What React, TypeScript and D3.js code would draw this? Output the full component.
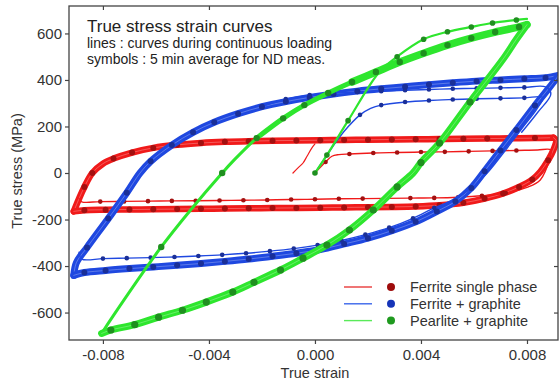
import React, { useEffect, useRef } from "react";
import * as d3 from "d3";

// [strain, stress (MPa), symbol? 1 = 5 min average point]
type Pt = [number, number, number];

const xTicks = [-0.008, -0.004, 0, 0.004, 0.008];
const xTickLabels = ["-0.008", "-0.004", "0.000", "0.004", "0.008"];
const yTicks = [-600, -400, -200, 0, 200, 400, 600];
const yTickLabels = ["-600", "-400", "-200", "0", "200", "400", "600"];

const titleLines = [
  "True stress strain curves",
  "lines : curves during continuous loading",
  "symbols : 5 min average for ND meas.",
];
const legendLabels = ["Ferrite single phase", "Ferrite + graphite", "Pearlite + graphite"];

// ---- Ferrite single phase (red)
const redBandUp: Pt[] = [
  [-0.0091, -165, 0], [-0.0089, -110, 0], [-0.0087, -60, 1], [-0.0084, 0, 1], [-0.008, 40, 0],
  [-0.0076, 62, 1], [-0.0069, 88, 1], [-0.0061, 108, 1], [-0.0052, 121, 1], [-0.0043, 129, 1],
  [-0.0034, 134, 1], [-0.0025, 137, 1], [-0.0016, 139, 1], [-0.0007, 140, 1], [0.0002, 141, 1],
  [0.0011, 142, 1], [0.002, 143, 1], [0.0029, 144, 1], [0.0038, 145, 1], [0.0047, 146, 1],
  [0.0056, 147, 1], [0.0065, 148, 1], [0.0074, 149, 1], [0.0083, 150, 1], [0.009, 152, 0],
];
const redBandDown: Pt[] = [
  [0.009, 152, 0], [0.0091, 140, 0], [0.009, 100, 0], [0.0088, 55, 1], [0.0085, 5, 0],
  [0.0082, -28, 1], [0.0077, -60, 1], [0.0071, -88, 1], [0.0064, -110, 1], [0.0056, -128, 1],
  [0.0047, -139, 1], [0.0038, -144, 1], [0.0029, -146, 1], [0.002, -147, 1], [0.0011, -148, 1],
  [0.0002, -149, 1], [-0.0007, -150, 1], [-0.0016, -151, 1], [-0.0025, -152, 1], [-0.0034, -153, 1],
  [-0.0043, -154, 1], [-0.0052, -155, 1], [-0.0061, -156, 1], [-0.007, -157, 1], [-0.0079, -158, 1],
  [-0.0087, -160, 1], [-0.0091, -165, 0],
];
const redFirst: Pt[] = [
  [0, 0, 0], [0.0004, 47, 1], [0.00064, 72, 0], [0.0009, 79, 0], [0.0013, 82, 1], [0.0022, 86, 1],
  [0.0031, 88, 1], [0.004, 90, 1], [0.0049, 91, 1], [0.0058, 93, 1], [0.0067, 95, 1], [0.0076, 97, 1],
  [0.0084, 99, 0], [0.0089, 99, 0], [0.00885, 60, 0], [0.0085, -30, 0], [0.008, -62, 0],
  [0.0072, -86, 1], [0.0063, -98, 1], [0.0054, -104, 1], [0.0045, -107, 1], [0.0036, -108, 1],
  [0.0027, -109, 1], [0.0018, -110, 1], [0.0009, -111, 1], [0, -113, 1], [-0.0009, -114, 1],
  [-0.0018, -116, 1], [-0.0027, -117, 1], [-0.0036, -118, 1], [-0.0045, -119, 1], [-0.0054, -120, 1],
  [-0.0063, -121, 1], [-0.0072, -122, 1], [-0.0081, -123, 1], [-0.0088, -124, 0], [-0.0089, -110, 0],
];
const redPre: Pt[] = [
  [-0.00083, 0, 0], [-0.00064, 22, 0], [-0.00045, 43, 0], [-0.0003, 72, 0], [-0.00012, 107, 0], [0, 125, 0],
];

// ---- Ferrite + graphite (blue)
const blueBandUp: Pt[] = [
  [-0.0091, -440, 0], [-0.009, -385, 0], [-0.0086, -320, 1], [-0.0078, -196, 1], [-0.0071, -85, 1],
  [-0.0066, 0, 0], [-0.0062, 50, 1], [-0.0054, 120, 1], [-0.0046, 175, 1], [-0.0038, 218, 1],
  [-0.0029, 255, 1], [-0.002, 285, 1], [-0.0011, 307, 1], [-0.0002, 325, 1], [0.0007, 340, 1],
  [0.0016, 352, 1], [0.0025, 362, 1], [0.0034, 371, 1], [0.0043, 380, 1], [0.0052, 388, 1],
  [0.0061, 395, 1], [0.007, 400, 1], [0.0079, 405, 1], [0.0087, 410, 1], [0.0092, 420, 0],
];
const blueBandDown: Pt[] = [
  [0.0092, 420, 0], [0.0088, 361, 0], [0.0083, 290, 1], [0.0076, 185, 1], [0.007, 97, 1],
  [0.0064, 8, 1], [0.0059, -64, 1], [0.0053, -122, 1], [0.0046, -165, 1], [0.0038, -210, 1],
  [0.0029, -248, 1], [0.002, -280, 1], [0.0011, -305, 1], [0.0002, -329, 1], [-0.0007, -345, 1],
  [-0.0016, -358, 1], [-0.0025, -370, 1], [-0.0034, -380, 1], [-0.0043, -389, 1], [-0.0052, -397, 1],
  [-0.0061, -404, 1], [-0.007, -411, 1], [-0.0079, -419, 1], [-0.0087, -428, 1], [-0.0091, -440, 0],
];
const blueFirst: Pt[] = [
  [0, 0, 0], [0.0005, 85, 0], [0.0009, 150, 0], [0.0013, 205, 0], [0.0017, 250, 1], [0.0021, 278, 0],
  [0.0025, 292, 1], [0.0034, 305, 1], [0.0043, 312, 1], [0.0052, 316, 1], [0.0061, 319, 1],
  [0.007, 321, 1], [0.0079, 323, 1], [0.0086, 325, 0], [0.0084, 280, 0], [0.0078, 190, 0],
  [0.0071, 85, 0], [0.0065, 0, 0], [0.0059, -65, 0], [0.0052, -115, 0], [0.0045, -150, 1],
  [0.0037, -195, 1], [0.0028, -235, 1], [0.0019, -265, 1], [0.001, -290, 1], [0.0001, -310, 1],
  [-0.0008, -325, 1], [-0.0017, -336, 1], [-0.0026, -345, 1], [-0.0035, -352, 1], [-0.0044, -357, 1],
  [-0.0053, -361, 1], [-0.0062, -364, 1], [-0.0071, -366, 1], [-0.008, -368, 1], [-0.0088, -370, 0],
  [-0.0089, -340, 0],
];
const blueSecond: Pt[] = [
  [-0.002, 285, 0], [-0.0011, 318, 1], [-0.0002, 335, 1], [0.0007, 343, 1], [0.0016, 348, 1],
  [0.0025, 352, 1], [0.0034, 356, 1], [0.0043, 359, 1], [0.0052, 362, 1], [0.0061, 364, 1],
  [0.007, 366, 1], [0.0079, 368, 1], [0.0087, 370, 0], [0.0089, 340, 0], [0.0084, 260, 0], [0.0078, 175, 0],
];

// ---- Pearlite + graphite (green)
const greenInit: Pt[] = [
  [0, 0, 1], [0.00045, 77, 1], [0.00125, 225, 1], [0.0024, 430, 0], [0.0031, 500, 1], [0.0041, 575, 1],
  [0.005, 607, 1], [0.0059, 628, 1], [0.0067, 645, 1], [0.0076, 658, 1], [0.008, 663, 0],
];
const greenUp: Pt[] = [
  [-0.00805, -690, 0], [-0.0076, -612, 0], [-0.0058, -318, 1], [-0.0047, -160, 0], [-0.0035, 0, 1],
  [-0.0031, 50, 0], [-0.0022, 150, 1], [-0.0012, 235, 1], [-0.0004, 292, 1], [0.0005, 344, 1],
  [0.0014, 391, 1], [0.0023, 434, 1], [0.0032, 477, 1], [0.0041, 515, 1], [0.005, 550, 1],
  [0.0059, 580, 1], [0.0068, 606, 1], [0.0077, 628, 1], [0.008, 638, 0],
];
const greenDown: Pt[] = [
  [0.008, 638, 0], [0.0076, 575, 0], [0.0071, 490, 0], [0.00585, 305, 1], [0.0047, 129, 1],
  [0.004, 45, 1], [0.0037, 0, 0], [0.0031, -60, 1], [0.0022, -159, 1], [0.0013, -245, 1],
  [0.00045, -310, 1], [-0.00045, -366, 1], [-0.0013, -417, 1], [-0.0023, -470, 1], [-0.0031, -512, 1],
  [-0.0041, -555, 1], [-0.005, -590, 1], [-0.0059, -620, 1], [-0.0068, -652, 1], [-0.0077, -675, 1],
  [-0.00805, -690, 0],
];

const FONT = "'Liberation Sans', Arial, Helvetica, sans-serif";
const W = 560;
const H = 385;

export default function App() {
  const ref = useRef<SVGSVGElement>(null);

  useEffect(() => {
    const svg = d3.select(ref.current);
    svg.selectAll("*").remove();

    const x = d3.scaleLinear().domain([-0.00928, 0.00917]).range([69, 558]);
    const y = d3.scaleLinear().domain([-718, 718]).range([340, 6]);

    svg.append("defs").append("clipPath").attr("id", "plot")
      .append("rect").attr("x", 69).attr("y", 6).attr("width", 489).attr("height", 334);

    const line = d3.line<Pt>()
      .x((d) => x(d[0]))
      .y((d) => y(d[1]))
      .curve(d3.curveCatmullRom.alpha(0.5));

    const plot = svg.append("g").attr("clip-path", "url(#plot)");

    const path = (data: Pt[], color: string, width: number, opacity = 1) =>
      plot.append("path")
        .attr("d", line(data))
        .attr("fill", "none")
        .attr("stroke", color)
        .attr("stroke-width", width)
        .attr("stroke-opacity", opacity)
        .attr("stroke-linejoin", "round")
        .attr("stroke-linecap", "round");

    // a band of overlapping cycles: wide stroke with a faint light stripe inside
    const band = (data: Pt[], color: string, width: number) => {
      path(data, color, width);
      path(data, "#ffffff", 0.8, 0.35);
    };

    const dots = (data: Pt[], color: string, r: number) => {
      plot.append("g").selectAll("circle")
        .data(data.filter((d) => d[2]))
        .join("circle")
        .attr("cx", (d) => x(d[0]))
        .attr("cy", (d) => y(d[1]))
        .attr("r", r)
        .attr("fill", color);
    };

    // red
    const red = "#f01a1a", redDot = "#a31010";
    band(redBandUp, red, 6.5);
    band(redBandDown, red, 6.5);
    path(redFirst, red, 1.4);
    path(redPre, red, 1.2);
    dots(redBandUp, redDot, 3);
    dots(redBandDown, redDot, 3);
    dots(redFirst, redDot, 2.3);

    // blue
    const blue = "#1f48e0", blueDot = "#1a2f98";
    band(blueBandUp, blue, 7);
    band(blueBandDown, blue, 7);
    path(blueFirst, blue, 1.4);
    path(blueSecond, blue, 1.4);
    dots(blueBandUp, blueDot, 3);
    dots(blueBandDown, blueDot, 3);
    dots(blueFirst, blueDot, 2.3);
    dots(blueSecond, blueDot, 2.3);

    // green
    const green = "#2ee62e", greenDot = "#1f8f1f";
    path(greenInit, green, 2.2);
    path(greenUp, green, 3);
    path(greenUp.filter((d) => d[0] >= -0.0022), green, 5);
    path(greenUp.filter((d) => d[0] >= 0.0014), green, 7.5);
    band(greenDown, green, 7);
    dots(greenInit, greenDot, 2.8);
    dots(greenUp, greenDot, 3.2);
    dots(greenDown, greenDot, 3.6);

    // frame & axes
    const axisColor = "#444";
    const bottom = svg.append("g").attr("transform", "translate(0,340)")
      .call(d3.axisBottom(x).tickValues(xTicks).tickSize(4).tickPadding(5)
        .tickFormat((_d, i) => xTickLabels[i]));
    const left = svg.append("g").attr("transform", "translate(69,0)")
      .call(d3.axisLeft(y).tickValues(yTicks).tickSize(4).tickPadding(3)
        .tickFormat((_d, i) => yTickLabels[i]));
    const top = svg.append("g").attr("transform", "translate(0,6)")
      .call(d3.axisTop(x).tickValues(xTicks).tickSize(-4).tickFormat(() => ""));
    const right = svg.append("g").attr("transform", "translate(558,0)")
      .call(d3.axisRight(y).tickValues(yTicks).tickSize(-4).tickFormat(() => ""));
    [bottom, left, top, right].forEach((g) => {
      g.select(".domain").remove();
      g.selectAll("line").attr("stroke", axisColor).attr("stroke-width", 1.2);
      g.selectAll("text").attr("fill", "#333").attr("font-size", 15).attr("font-family", FONT);
    });
    svg.append("rect").attr("x", 69).attr("y", 6).attr("width", 489).attr("height", 334)
      .attr("fill", "none").attr("stroke", axisColor).attr("stroke-width", 1.3);

    // axis titles
    svg.append("text").attr("x", 315).attr("y", 378).attr("text-anchor", "middle")
      .attr("font-size", 14.5).attr("font-family", FONT).attr("fill", "#333").text("True strain");
    svg.append("text").attr("transform", "translate(22,171) rotate(-90)").attr("text-anchor", "middle")
      .attr("font-size", 14.5).attr("font-family", FONT).attr("fill", "#333").text("True stress (MPa)");

    // in-plot titles
    const tt = svg.append("g").attr("font-family", FONT).attr("fill", "#222");
    tt.append("text").attr("x", 87).attr("y", 32).attr("font-size", 17).text(titleLines[0]);
    tt.append("text").attr("x", 87).attr("y", 48).attr("font-size", 14).text(titleLines[1]);
    tt.append("text").attr("x", 87).attr("y", 64).attr("font-size", 14).text(titleLines[2]);

    // legend
    const legLine = ["#e83a3a", "#3a66ea", "#5aea5a"];
    const legDot = ["#9e0c0c", "#1634b8", "#1f9a1f"];
    const lg = svg.append("g");
    legendLabels.forEach((label, i) => {
      const ly = 287 + i * 16.8;
      lg.append("line").attr("x1", 344).attr("x2", 372).attr("y1", ly).attr("y2", ly)
        .attr("stroke", legLine[i]).attr("stroke-width", 1.4);
      lg.append("circle").attr("cx", 391).attr("cy", ly).attr("r", 4).attr("fill", legDot[i]);
      lg.append("text").attr("x", 410).attr("y", ly + 5).attr("font-size", 14.5)
        .attr("font-family", FONT).attr("fill", "#333").text(label);
    });
  }, []);

  return (
    <svg
      ref={ref}
      width={W}
      height={H}
      style={{ position: "absolute", left: 0, top: 0, background: "#fff" }}
    />
  );
}
